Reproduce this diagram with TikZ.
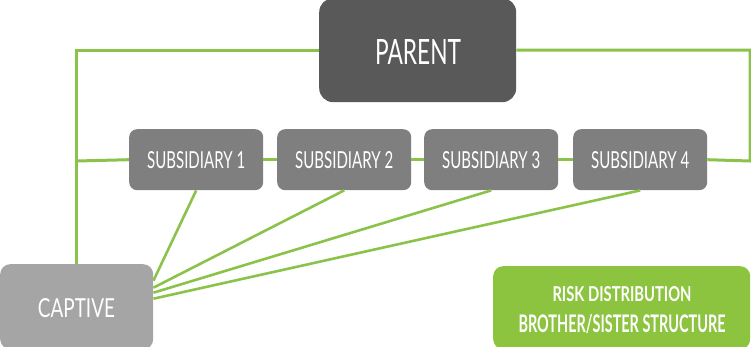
\documentclass[tikz,border=0pt]{standalone}
\usepackage{fontspec}
\setmainfont{Lato}
\usetikzlibrary{calc}
\definecolor{parentgray}{HTML}{595959}
\definecolor{subgray}{HTML}{7F7F7F}
\definecolor{captgray}{HTML}{A5A5A5}
\definecolor{leafgreen}{HTML}{8CC43F}
\definecolor{linkgreen}{HTML}{8BC34A}
% text squeezed to a given width and cap height
\newcommand{\fitlabel}[3]{\resizebox{#1}{#2}{#3}}
\begin{document}
\begin{tikzpicture}[x=1pt,y=-1pt,
  box/.style={rectangle,inner sep=0pt,text=white,anchor=north west},
  parentbox/.style={box,fill=parentgray,rounded corners=14pt,minimum width=197pt,minimum height=104pt},
  subbox/.style={box,fill=subgray,rounded corners=8pt,minimum width=134pt,minimum height=61pt},
  captbox/.style={box,fill=captgray,rounded corners=10pt,minimum width=153pt,minimum height=85pt},
  notebox/.style={box,fill=leafgreen,rounded corners=10pt,minimum width=257pt,minimum height=83pt},
  link/.style={draw=linkgreen,line width=3pt},
  spoke/.style={draw=linkgreen,line width=2.6pt}]
\useasboundingbox (0,0) rectangle (751,347);

% boxes
\node[parentbox] (parent) at (319,-2) {};
\node[subbox] (sub1) at (129,129) {};
\node[subbox] (sub2) at (277,129) {};
\node[subbox] (sub3) at (424,129) {};
\node[subbox] (sub4) at (573,129) {};
\node[captbox] (captive) at (0,264) {};
\node[notebox] (risk) at (493,266) {};

% connectors
\coordinate (rc) at (750,161);
\coordinate (lc) at (76.5,161);
\draw[link] (parent.west) -| (captive.north);
\draw[link] (parent.east) -| (rc) -- (sub4.east);
\draw[link] (lc) -- (sub1.west);
\draw[link] (sub1.east) -- (sub2.west);
\draw[link] (sub2.east) -- (sub3.west);
\draw[link] (sub3.east) -- (sub4.west);
\draw[spoke] (sub1.south) -- ($(captive.east)+(0,-26)$);
\draw[spoke] (sub2.south) -- ($(captive.east)+(0,-19)$);
\draw[spoke] (sub3.south) -- ($(captive.east)+(0,-14)$);
\draw[spoke] (sub4.south) -- ($(captive.east)+(0,-8)$);

% labels
\node[text=white,inner sep=0pt] (tparent) at (418,52.5) {\fitlabel{86pt}{25pt}{PARENT}};
\node[text=white,inner sep=0pt] (t1) at ($(sub1.center)+(0,0.5)$) {\fitlabel{98pt}{17pt}{SUBSIDIARY 1}};
\node[text=white,inner sep=0pt] (t2) at ($(sub2.center)+(0,0.5)$) {\fitlabel{98pt}{17pt}{SUBSIDIARY 2}};
\node[text=white,inner sep=0pt] (t3) at ($(sub3.center)+(0,0.5)$) {\fitlabel{98pt}{17pt}{SUBSIDIARY 3}};
\node[text=white,inner sep=0pt] (t4) at ($(sub4.center)+(0,0.5)$) {\fitlabel{98pt}{17pt}{SUBSIDIARY 4}};
\node[text=white,inner sep=0pt] (tc) at (76.5,308) {\fitlabel{77pt}{19pt}{CAPTIVE}};
\node[text=white,inner sep=0pt] (tr1) at (622,294) {\fitlabel{139pt}{15pt}{\bfseries RISK DISTRIBUTION}};
\node[text=white,inner sep=0pt] (tr2) at (622,324) {\fitlabel{207pt}{18pt}{\bfseries BROTHER/SISTER STRUCTURE}};
\end{tikzpicture}
\end{document}
